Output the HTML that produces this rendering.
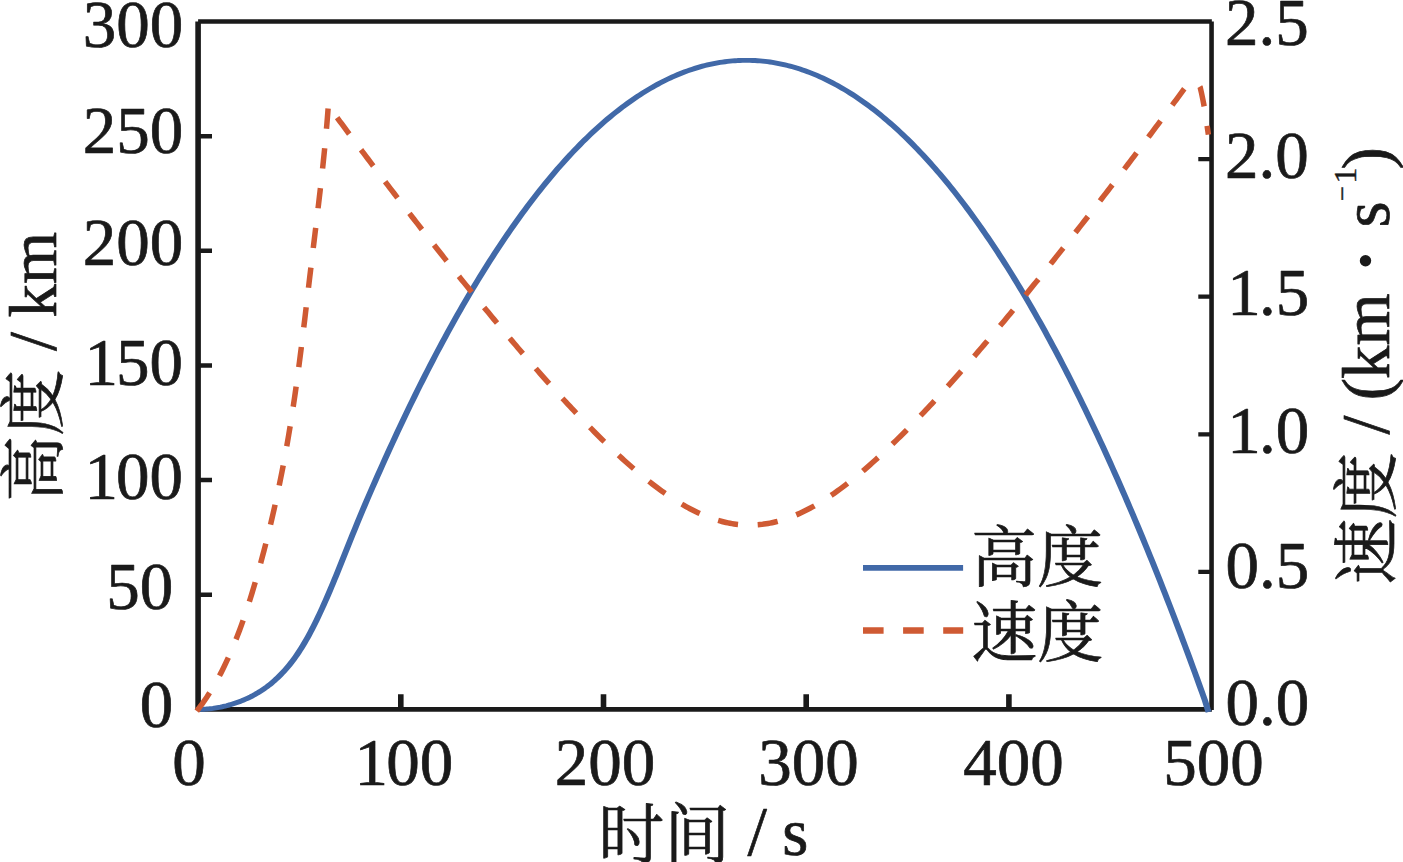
<!DOCTYPE html>
<html lang="zh"><head><meta charset="utf-8"><title>高度 / 速度 — 时间</title>
<style>html,body{margin:0;padding:0;background:#fff;}svg{display:block;}text{font-family:"Liberation Serif","Noto Serif CJK SC",serif;}</style>
</head><body>
<svg width="1403" height="862" viewBox="0 0 1403 862">
<rect width="1403" height="862" fill="#fff"/>
<g fill="none" stroke="#1a1a1a" stroke-linecap="butt">
<path d="M198.1 709.8 V21.55" stroke-width="5.6"/>
<path d="M198.1 21.55 H1211.85" stroke-width="4.5"/>
<path d="M1211.55 21.55 V709.9" stroke-width="4.6"/>
<path d="M198.1 709.4 H1211.85" stroke-width="4.6"/>
<path d="M400.8 709.4 V694.3 M603.5 709.4 V694.3 M806.2 709.4 V694.3 M1008.9 709.4 V694.3" stroke-width="5.6"/>
<path d="M198.1 594.8 H212 M198.1 480.1 H212 M198.1 365.5 H212 M198.1 250.8 H212 M198.1 136.2 H212" stroke-width="4.5"/>
<path d="M1211.55 571.8 H1198.3 M1211.55 434.3 H1198.3 M1211.55 296.7 H1198.3 M1211.55 159.1 H1198.3" stroke-width="4.3"/>
</g>
<path transform="scale(1.25 1)" d="M158.4 709.45 L159.6 709.44 L160.8 709.4 L162 709.34 L163.2 709.26 L164.4 709.16 L165.6 709.04 L166.8 708.9 L168 708.74 L169.2 708.56 L170.4 708.37 L171.6 708.15 L172.8 707.91 L174 707.65 L175.2 707.38 L176.4 707.09 L177.6 706.77 L178.8 706.44 L180 706.09 L181.2 705.72 L182.4 705.32 L183.6 704.91 L184.8 704.48 L186 704.03 L187.2 703.56 L188.4 703.06 L189.6 702.55 L190.8 702.01 L192 701.45 L193.2 700.86 L194.4 700.25 L195.6 699.62 L196.8 698.97 L198 698.28 L199.2 697.57 L200.4 696.84 L201.6 696.07 L202.8 695.28 L204 694.45 L205.2 693.6 L206.4 692.72 L207.6 691.8 L208.8 690.85 L210 689.86 L211.2 688.84 L212.4 687.78 L213.6 686.69 L214.8 685.55 L216 684.38 L217.2 683.16 L218.4 681.9 L219.6 680.59 L220.8 679.24 L222 677.85 L223.2 676.4 L224.4 674.91 L225.6 673.36 L226.8 671.76 L228 670.11 L229.2 668.4 L230.4 666.63 L231.6 664.8 L232.8 662.91 L234 660.96 L235.2 658.94 L236.4 656.85 L237.6 654.7 L238.8 652.48 L240 650.19 L241.2 647.82 L242.4 645.39 L243.6 642.88 L244.8 640.3 L246 637.65 L247.2 634.93 L248.4 632.14 L249.6 629.28 L250.8 626.35 L252 623.36 L253.2 620.3 L254.4 617.18 L255.6 614 L256.8 610.77 L258 607.48 L259.2 604.14 L260.4 600.76 L261.6 597.32 L262.8 593.85 L264 590.34 L265.2 586.79 L266.4 583.2 L267.6 579.59 L268.8 575.94 L270 572.27 L271.2 568.57 L272 566.09 L274 559.86 L276 553.6 L278 547.32 L280 541.06 L282 534.84 L284 528.67 L286 522.56 L288 516.51 L290 510.54 L292 504.64 L294 498.8 L296 493.02 L298 487.29 L300 481.6 L302 475.94 L304 470.33 L306 464.74 L308 459.18 L310 453.66 L312 448.18 L314 442.74 L316 437.34 L318 431.97 L320 426.65 L322 421.36 L324 416.12 L326 410.91 L328 405.74 L330 400.61 L332 395.51 L334 390.46 L336 385.44 L338 380.47 L340 375.53 L342 370.63 L344 365.77 L346 360.95 L348 356.17 L350 351.42 L352 346.72 L354 342.05 L356 337.42 L358 332.83 L360 328.28 L362 323.77 L364 319.29 L366 314.86 L368 310.46 L370 306.1 L372 301.78 L374 297.5 L376 293.26 L378 289.05 L380 284.89 L382 280.76 L384 276.67 L386 272.62 L388 268.61 L390 264.64 L392 260.7 L394 256.81 L396 252.95 L398 249.13 L400 245.35 L402 241.61 L404 237.9 L406 234.24 L408 230.61 L410 227.02 L412 223.47 L414 219.96 L416 216.48 L418 213.05 L420 209.65 L422 206.29 L424 202.97 L426 199.69 L428 196.45 L430 193.24 L432 190.08 L434 186.95 L436 183.86 L438 180.81 L440 177.79 L442 174.82 L444 171.88 L446 168.98 L448 166.12 L450 163.3 L452 160.52 L454 157.77 L456 155.06 L458 152.39 L460 149.76 L462 147.17 L464 144.62 L466 142.1 L468 139.62 L470 137.18 L472 134.78 L474 132.42 L476 130.09 L478 127.81 L480 125.56 L482 123.35 L484 121.18 L486 119.04 L488 116.95 L490 114.89 L492 112.87 L494 110.89 L496 108.94 L498 107.04 L500 105.17 L502 103.34 L504 101.55 L506 99.8 L508 98.09 L510 96.41 L512 94.77 L514 93.17 L516 91.61 L518 90.09 L520 88.6 L522 87.15 L524 85.74 L526 84.37 L528 83.04 L530 81.74 L532 80.48 L534 79.27 L536 78.08 L538 76.94 L540 75.84 L542 74.77 L544 73.74 L546 72.75 L548 71.8 L550 70.88 L552 70.01 L554 69.17 L556 68.37 L558 67.6 L560 66.88 L562 66.19 L564 65.54 L566 64.93 L568 64.36 L570 63.83 L572 63.33 L574 62.87 L576 62.45 L578 62.07 L580 61.73 L582 61.42 L584 61.15 L586 60.92 L588 60.73 L590 60.57 L592 60.46 L594 60.38 L596 60.34 L598 60.34 L600 60.37 L602 60.45 L604 60.56 L606 60.71 L608 60.9 L610 61.12 L612 61.39 L614 61.69 L616 62.03 L618 62.4 L620 62.82 L622 63.27 L624 63.76 L626 64.29 L628 64.86 L630 65.47 L632 66.11 L634 66.79 L636 67.51 L638 68.27 L640 69.06 L642 69.9 L644 70.77 L646 71.68 L648 72.62 L650 73.61 L652 74.63 L654 75.69 L656 76.79 L658 77.93 L660 79.1 L662 80.32 L664 81.57 L666 82.86 L668 84.18 L670 85.55 L672 86.95 L674 88.39 L676 89.87 L678 91.39 L680 92.94 L682 94.53 L684 96.16 L686 97.83 L688 99.54 L690 101.28 L692 103.07 L694 104.89 L696 106.75 L698 108.64 L700 110.58 L702 112.55 L704 114.56 L706 116.61 L708 118.69 L710 120.82 L712 122.98 L714 125.18 L716 127.42 L718 129.7 L720 132.01 L722 134.36 L724 136.75 L726 139.18 L728 141.65 L730 144.15 L732 146.69 L734 149.27 L736 151.89 L738 154.55 L740 157.24 L742 159.98 L744 162.75 L746 165.56 L748 168.4 L750 171.29 L752 174.21 L754 177.17 L756 180.17 L758 183.21 L760 186.28 L762 189.39 L764 192.54 L766 195.73 L768 198.96 L770 202.23 L772 205.53 L774 208.87 L776 212.25 L778 215.67 L780 219.12 L782 222.62 L784 226.15 L786 229.72 L788 233.32 L790 236.97 L792 240.65 L794 244.38 L796 248.14 L798 251.94 L800 255.77 L802 259.65 L804 263.56 L806 267.51 L808 271.5 L810 275.53 L812 279.59 L814 283.7 L816 287.84 L818 292.02 L820 296.24 L822 300.49 L824 304.79 L826 309.12 L828 313.49 L830 317.9 L832 322.35 L834 326.83 L836 331.35 L838 335.92 L840 340.52 L842 345.16 L844 349.83 L846 354.55 L848 359.3 L850 364.09 L852 368.92 L854 373.79 L856 378.69 L858 383.64 L860 388.62 L862 393.64 L864 398.7 L866 403.8 L868 408.93 L870 414.11 L872 419.32 L874 424.57 L876 429.86 L878 435.19 L880 440.55 L882 445.96 L884 451.4 L886 456.88 L888 462.4 L890 467.96 L892 473.55 L894 479.19 L896 484.86 L898 490.57 L900 496.32 L902 502.11 L904 507.93 L906 513.8 L908 519.7 L910 525.64 L912 531.62 L914 537.64 L916 543.7 L918 549.8 L920 555.93 L922 562.1 L924 568.31 L926 574.56 L928 580.85 L930 587.18 L932 593.54 L934 599.95 L936 606.39 L938 612.87 L940 619.39 L942 625.95 L944 632.54 L946 639.18 L948 645.85 L950 652.56 L952 659.32 L954 666.11 L956 672.93 L958 679.8 L960 686.71 L962 693.65 L964 700.63 L966.16 709.45 L966.92 711.95" fill="none" stroke="#4169a8" stroke-width="4.9" stroke-linejoin="round"/>
<path d="M198 709.45 L202.53 703.35 L206.75 697.26 L210.67 691.16 L214.34 685.07 L217.77 678.97 L220.99 672.88 L224.03 666.78 L226.91 660.69 L229.66 654.59 L232.29 648.5 L234.82 642.4 L237.24 636.3 L239.56 630.21 L241.79 624.11 L243.94 618.02 L246.02 611.92 L248.02 605.83 L249.96 599.73 L251.85 593.64 L253.68 587.54 L255.47 581.45 L257.23 575.35 L258.95 569.25 L260.63 563.16 L262.28 557.06 L263.9 550.97 L265.48 544.87 L267.03 538.78 L268.55 532.68 L270.03 526.59 L271.49 520.49 L272.91 514.4 L274.29 508.3 L275.65 502.2 L276.98 496.11 L278.28 490.01 L279.54 483.92 L280.78 477.82 L281.99 471.73 L283.17 465.63 L284.33 459.54 L285.45 453.44 L286.55 447.35 L287.62 441.25 L288.67 435.15 L289.68 429.06 L290.68 422.96 L291.65 416.87 L292.59 410.77 L293.51 404.68 L294.41 398.58 L295.3 392.49 L296.16 386.39 L297 380.3 L297.83 374.2 L298.64 368.1 L299.44 362.01 L300.23 355.91 L301 349.82 L301.77 343.72 L302.52 337.63 L303.27 331.53 L304 325.44 L304.74 319.34 L305.46 313.25 L306.19 307.15 L306.91 301.05 L307.63 294.96 L308.35 288.86 L309.07 282.77 L309.8 276.67 L310.53 270.58 L311.26 264.48 L311.99 258.39 L312.73 252.29 L313.48 246.2 L314.22 240.1 L314.96 234 L315.7 227.91 L316.44 221.81 L317.18 215.72 L317.9 209.62 L318.63 203.53 L319.34 197.43 L320.05 191.34 L320.74 185.24 L321.43 179.15 L322.1 173.05 L322.75 166.95 L323.39 160.86 L324.02 154.76 L324.63 148.67 L325.22 142.57 L325.79 136.48 L326.33 130.38 L326.86 124.29 L327.36 118.19 L327.83 112.1 L328.28 106 L328.45 104.6 L330 107.99 L332 110.7 L334 113.41 L336 116.11 L338 118.82 L340 121.52 L342 124.22 L344 126.91 L346 129.6 L348 132.29 L350 134.98 L352 137.66 L354 140.34 L356 143.02 L358 145.69 L360 148.36 L362 151.03 L364 153.7 L366 156.36 L368 159.02 L370 161.67 L372 164.32 L374 166.97 L376 169.62 L378 172.26 L380 174.9 L382 177.54 L384 180.17 L386 182.8 L388 185.43 L390 188.05 L392 190.68 L394 193.29 L396 195.91 L398 198.52 L400 201.13 L402 203.73 L404 206.33 L406 208.93 L408 211.52 L410 214.11 L412 216.7 L414 219.28 L416 221.86 L418 224.44 L420 227.01 L422 229.58 L424 232.15 L426 234.71 L428 237.27 L430 239.82 L432 242.37 L434 244.92 L436 247.46 L438 250 L440 252.54 L442 255.07 L444 257.59 L446 260.12 L448 262.64 L450 265.15 L452 267.67 L454 270.17 L456 272.68 L458 275.17 L460 277.67 L462 280.16 L464 282.65 L466 285.13 L468 287.6 L470 290.08 L472 292.55 L474 295.01 L476 297.47 L478 299.92 L480 302.37 L482 304.82 L484 307.26 L486 309.69 L488 312.12 L490 314.55 L492 316.97 L494 319.38 L496 321.79 L498 324.2 L500 326.59 L502 328.99 L504 331.38 L506 333.76 L508 336.13 L510 338.5 L512 340.87 L514 343.23 L516 345.58 L518 347.93 L520 350.27 L522 352.6 L524 354.93 L526 357.25 L528 359.57 L530 361.88 L532 364.18 L534 366.47 L536 368.76 L538 371.04 L540 373.32 L542 375.58 L544 377.84 L546 380.09 L548 382.34 L550 384.57 L552 386.8 L554 389.02 L556 391.23 L558 393.43 L560 395.63 L562 397.81 L564 399.99 L566 402.16 L568 404.31 L570 406.46 L572 408.6 L574 410.73 L576 412.85 L578 414.96 L580 417.06 L582 419.15 L584 421.23 L586 423.3 L588 425.35 L590 427.4 L592 429.43 L594 431.45 L596 433.46 L598 435.46 L600 437.45 L602 439.42 L604 441.38 L606 443.33 L608 445.26 L610 447.18 L612 449.08 L614 450.97 L616 452.85 L618 454.71 L620 456.56 L622 458.39 L624 460.2 L626 462 L628 463.78 L630 465.55 L632 467.3 L634 469.03 L636 470.74 L638 472.43 L640 474.11 L642 475.76 L644 477.4 L646 479.02 L648 480.62 L650 482.19 L652 483.75 L654 485.28 L656 486.79 L658 488.28 L660 489.75 L662 491.19 L664 492.61 L666 494.01 L668 495.38 L670 496.73 L672 498.05 L674 499.35 L676 500.61 L678 501.86 L680 503.07 L682 504.26 L684 505.42 L686 506.55 L688 507.65 L690 508.72 L692 509.76 L694 510.77 L696 511.75 L698 512.7 L700 513.62 L702 514.5 L704 515.36 L706 516.17 L708 516.96 L710 517.71 L712 518.43 L714 519.11 L716 519.75 L718 520.37 L720 520.94 L722 521.48 L724 521.98 L726 522.45 L728 522.88 L730 523.27 L732 523.62 L734 523.94 L736 524.22 L738 524.46 L740 524.66 L742 524.83 L744 524.95 L746 525.04 L748 525.09 L750 525.1 L752 525.07 L754 525.01 L756 524.9 L758 524.76 L760 524.58 L762 524.36 L764 524.1 L766 523.8 L768 523.47 L770 523.1 L772 522.69 L774 522.24 L776 521.76 L778 521.24 L780 520.68 L782 520.09 L784 519.47 L786 518.8 L788 518.11 L790 517.38 L792 516.61 L794 515.81 L796 514.98 L798 514.11 L800 513.21 L802 512.28 L804 511.32 L806 510.33 L808 509.3 L810 508.25 L812 507.17 L814 506.05 L816 504.91 L818 503.74 L820 502.54 L822 501.31 L824 500.06 L826 498.78 L828 497.48 L830 496.15 L832 494.79 L834 493.41 L836 492 L838 490.57 L840 489.12 L842 487.65 L844 486.15 L846 484.63 L848 483.09 L850 481.53 L852 479.94 L854 478.34 L856 476.72 L858 475.07 L860 473.41 L862 471.73 L864 470.03 L866 468.31 L868 466.58 L870 464.83 L872 463.06 L874 461.27 L876 459.47 L878 457.65 L880 455.82 L882 453.97 L884 452.1 L886 450.22 L888 448.33 L890 446.42 L892 444.5 L894 442.57 L896 440.62 L898 438.66 L900 436.68 L902 434.7 L904 432.7 L906 430.69 L908 428.67 L910 426.63 L912 424.59 L914 422.53 L916 420.46 L918 418.38 L920 416.3 L922 414.2 L924 412.09 L926 409.97 L928 407.84 L930 405.7 L932 403.55 L934 401.4 L936 399.23 L938 397.06 L940 394.87 L942 392.68 L944 390.48 L946 388.27 L948 386.05 L950 383.83 L952 381.6 L954 379.36 L956 377.11 L958 374.85 L960 372.59 L962 370.32 L964 368.04 L966 365.76 L968 363.47 L970 361.17 L972 358.87 L974 356.56 L976 354.24 L978 351.91 L980 349.58 L982 347.25 L984 344.91 L986 342.56 L988 340.2 L990 337.84 L992 335.48 L994 333.11 L996 330.73 L998 328.35 L1000 325.96 L1002 323.57 L1004 321.17 L1006 318.77 L1008 316.36 L1010 313.94 L1012 311.52 L1014 309.1 L1016 306.67 L1018 304.24 L1020 301.8 L1022 299.36 L1024 296.91 L1026 294.46 L1028 292 L1030 289.54 L1032 287.07 L1034 284.6 L1036 282.13 L1038 279.65 L1040 277.17 L1042 274.68 L1044 272.19 L1046 269.69 L1048 267.19 L1050 264.69 L1052 262.18 L1054 259.67 L1056 257.16 L1058 254.64 L1060 252.11 L1062 249.59 L1064 247.06 L1066 244.52 L1068 241.98 L1070 239.44 L1072 236.89 L1074 234.34 L1076 231.79 L1078 229.24 L1080 226.68 L1082 224.11 L1084 221.54 L1086 218.97 L1088 216.4 L1090 213.82 L1092 211.24 L1094 208.66 L1096 206.07 L1098 203.48 L1100 200.88 L1102 198.29 L1104 195.69 L1106 193.08 L1108 190.47 L1110 187.86 L1112 185.25 L1114 182.63 L1116 180.01 L1118 177.39 L1120 174.76 L1122 172.13 L1124 169.5 L1126 166.87 L1128 164.23 L1130 161.59 L1132 158.94 L1134 156.29 L1136 153.64 L1138 150.99 L1140 148.33 L1142 145.67 L1144 143.01 L1146 140.34 L1148 137.68 L1150 135 L1152 132.33 L1154 129.65 L1156 126.97 L1158 124.29 L1160 121.6 L1162 118.92 L1164 116.22 L1166 113.53 L1168 110.83 L1170 108.13 L1172 105.43 L1174 102.72 L1176 100.01 L1178 97.3 L1180 94.59 L1182 91.87 L1184 89.15 L1186 86.43 L1188.5 86 L1191 83.8 L1193 82.6 L1195 82.4 L1197 83.2 L1198.8 84.9 L1200.2 87.3 L1201.5 93 L1202.9 99.8 L1204.2 106.5 L1205.4 114 L1206.5 121.5 L1207.5 128.5 L1208.4 134.6" fill="none" stroke="#cf5a33" stroke-width="5.5" stroke-dasharray="20.3 19.7" stroke-linejoin="miter"/>
<path d="M196.8 711.1 L198.6 708.6" fill="none" stroke="#cf5a33" stroke-width="5.5"/>
<path d="M863 567.9 H963.1" stroke="#4169a8" stroke-width="5.6" fill="none"/>
<path d="M863 630.4 H963.2" stroke="#cf5a33" stroke-width="6.5" stroke-dasharray="20.6 19.5" fill="none"/>
<g font-family="'Liberation Serif', 'Noto Serif CJK SC', serif" font-size="66px" fill="#1a1a1a" stroke="#1a1a1a" stroke-width="0.7" stroke-linejoin="round">
<text x="971" y="580.6">高度</text>
<text x="971.3" y="656.3">速度</text>
<text x="598.3" y="857.7">时间</text>
<text transform="translate(56.9 501.7) rotate(-90)">高度</text>
<text transform="translate(1390.1 584.6) rotate(-90)">速度</text>
</g>
<g font-family="'Liberation Serif', serif" font-size="67px" fill="#1a1a1a" stroke="#1a1a1a" stroke-width="0.7" stroke-linejoin="round">
<text x="183.2" y="46.9" text-anchor="end">300</text>
<text x="183.2" y="152.9" text-anchor="end">250</text>
<text x="183.2" y="264.5" text-anchor="end">200</text>
<text x="181.3" y="384.6" text-anchor="end"><tspan dx="1.8">1</tspan><tspan dx="-1.8">50</tspan></text>
<text x="181.3" y="498.8" text-anchor="end"><tspan dx="1.8">1</tspan><tspan dx="-1.8">00</tspan></text>
<text x="173.2" y="608.6" text-anchor="end">50</text>
<text x="173.2" y="727.0" text-anchor="end">0</text>
<text x="1225.1" y="44.9">2.5</text>
<text x="1225.1" y="177.9">2.0</text>
<text x="1225.6" y="314.6" dx="1.7 -1.7">1.5</text>
<text x="1225.6" y="453.2" dx="1.7 -1.7">1.0</text>
<text x="1225.6" y="587.7">0.5</text>
<text x="1225.6" y="724.9">0.0</text>
<text x="188.9" y="785.2" text-anchor="middle">0</text>
<text x="402.1" y="785.2" text-anchor="middle"><tspan dx="1.8">1</tspan><tspan dx="-1.8">00</tspan></text>
<text x="605.0" y="785.2" text-anchor="middle">200</text>
<text x="808.6" y="785.2" text-anchor="middle">300</text>
<text x="1013.5" y="785.2" text-anchor="middle">400</text>
<text x="1213.5" y="785.2" text-anchor="middle">500</text>
<text x="747.6" y="854.9" font-size="70px">/</text><text x="782.2" y="855.3">s</text>
<text transform="translate(55.1 351.0) rotate(-90)" font-size="68px">/</text>
<text transform="translate(55.9 317.4) rotate(-90)">km</text>
<text transform="translate(1388 434.5) rotate(-90)" font-size="68px">/</text>
<text transform="translate(1388.6 400.2) rotate(-90)">(</text>
<text transform="translate(1388.6 379.1) rotate(-90)">km</text>
<text transform="translate(1388.6 227.5) rotate(-90)">s</text>
<text transform="translate(1388.6 169.5) rotate(-90)">)</text>
</g>
<g font-family="'Liberation Serif', serif" fill="#1a1a1a" stroke="#1a1a1a" stroke-width="0.4">
<text transform="translate(1350.5 201.2) rotate(-90)" font-size="27px">−</text>
<text transform="translate(1355.5 183.6) rotate(-90)" font-size="32px">1</text>
</g>
<circle cx="1365.5" cy="260.7" r="5.7" fill="#1a1a1a"/>
</svg>
</body></html>
